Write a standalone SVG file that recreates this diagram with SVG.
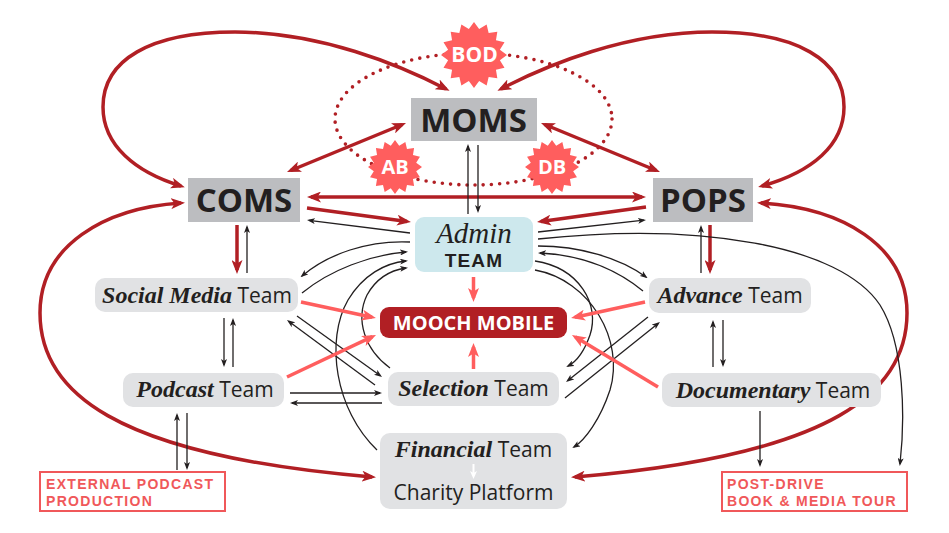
<svg xmlns="http://www.w3.org/2000/svg" width="949" height="533" viewBox="0 0 949 533">
<style>
.dr{fill:none;stroke:#b11f24;stroke-width:3.5}
.pk{fill:none;stroke:#ff5e5e;stroke-width:3.5}
.tk{fill:none;stroke:#231f20;stroke-width:1.3}
.hub{fill:#bcbdc0}
.team{fill:#e1e2e4}
.big{font-family:"Open Sans","Liberation Sans",sans-serif;font-weight:700;font-size:33px;fill:#231f20;text-anchor:middle}
.star{fill:#ff5e5e}
.stxt{font-family:"Open Sans","Liberation Sans",sans-serif;font-weight:700;fill:#fff;text-anchor:middle}
.tl{font-family:"Open Sans","Liberation Sans",sans-serif;font-size:21px;fill:#231f20;text-anchor:middle}
.it{font-family:"Liberation Serif","DejaVu Serif",serif;font-style:italic;font-weight:700;font-size:24px}
.ext{fill:#fff;stroke:#f0585a;stroke-width:2}
.extt{font-family:"Liberation Sans","Arial",sans-serif;font-weight:700;font-size:14px;letter-spacing:1.3px;fill:#f0585a}
</style>
<defs>
<marker id="mDR" viewBox="0 0 14 11" refX="10" refY="5.5" markerWidth="14" markerHeight="11" markerUnits="userSpaceOnUse" orient="auto-start-reverse"><path d="M0,0 L14,5.5 L0,11 L3.5,5.5 Z" fill="#b11f24"/></marker>
<marker id="mPK" viewBox="0 0 14 11" refX="10" refY="5.5" markerWidth="14" markerHeight="11" markerUnits="userSpaceOnUse" orient="auto-start-reverse"><path d="M0,0 L14,5.5 L0,11 L3.5,5.5 Z" fill="#ff5e5e"/></marker>
<marker id="mTK" viewBox="0 0 8 6" refX="6" refY="3" markerWidth="8" markerHeight="6" markerUnits="userSpaceOnUse" orient="auto-start-reverse"><path d="M0,0 L8,3 L0,6 L2,3 Z" fill="#231f20"/></marker>
<marker id="mWH" viewBox="0 0 8 7" refX="5" refY="3.5" markerWidth="8" markerHeight="7" markerUnits="userSpaceOnUse" orient="auto"><path d="M0,0 L8,3.5 L0,7 L2,3.5 Z" fill="#ffffff"/></marker>
<path id="star" d="M10,0 L7.846,1.561 L9.239,3.827 L6.652,4.445 L7.071,7.071 L4.445,6.652 L3.827,9.239 L1.561,7.846 L0,10 L-1.561,7.846 L-3.827,9.239 L-4.445,6.652 L-7.071,7.071 L-6.652,4.445 L-9.239,3.827 L-7.846,1.561 L-10,0 L-7.846,-1.561 L-9.239,-3.827 L-6.652,-4.445 L-7.071,-7.071 L-4.445,-6.652 L-3.827,-9.239 L-1.561,-7.846 L0,-10 L1.561,-7.846 L3.827,-9.239 L4.445,-6.652 L7.071,-7.071 L6.652,-4.445 L9.239,-3.827 L7.846,-1.561 Z"/>
</defs>
<rect width="949" height="533" fill="#ffffff"/>

<g id="board-ring">
<ellipse cx="473.5" cy="119" rx="138.5" ry="66" fill="none" stroke="#b11f24" stroke-width="3.6" stroke-dasharray="0 8.2" stroke-linecap="round"/>
</g>

<g id="connectors">
<path class="dr" marker-start="url(#mDR)" marker-end="url(#mDR)" d="M181,186 C135,172 103,145 103,107 C103,60 150,32 235,32 C320,32 400,65 446,89"/>
<path class="dr" marker-start="url(#mDR)" marker-end="url(#mDR)" d="M762,186 C812,172 844,145 844,107 C844,60 797,32 712,32 C627,32 547,65 501,89"/>
<path class="dr" marker-start="url(#mDR)" marker-end="url(#mDR)" d="M181,203 C105,208 40,245 40,313 C40,390 110,455 372,477"/>
<path class="dr" marker-start="url(#mDR)" marker-end="url(#mDR)" d="M761,203 C842,208 907,245 907,313 C907,390 837,455 575,477"/>
<path class="dr" marker-start="url(#mDR)" marker-end="url(#mDR)" d="M290.7,170.5 L402.3,124.5"/>
<path class="dr" marker-start="url(#mDR)" marker-end="url(#mDR)" d="M544.7,124.5 L656.3,170.5"/>
<path class="dr" marker-start="url(#mDR)" marker-end="url(#mDR)" d="M311,197 L642,197"/>
<path class="dr" marker-end="url(#mDR)" d="M307,208 L407,221.5"/>
<path class="dr" marker-end="url(#mDR)" d="M646,207 L541,221.5"/>
<path class="dr" marker-end="url(#mDR)" d="M237,225 L237,270"/>
<path class="dr" marker-end="url(#mDR)" d="M710,225 L710,270"/>
<path class="tk" marker-end="url(#mTK)" d="M247,273 L247,227"/>
<path class="tk" marker-end="url(#mTK)" d="M701,273 L701,227"/>
<path class="tk" marker-end="url(#mTK)" d="M468,214 L468,146"/>
<path class="tk" marker-end="url(#mTK)" d="M478,145 L478,211"/>
<path class="tk" marker-end="url(#mTK)" d="M410,233 L309,220.3"/>
<path class="tk" marker-end="url(#mTK)" d="M538,232 L644,220.2"/>
<path class="tk" marker-end="url(#mTK)" d="M538,239 C700,222 840,245 880,305 C905,345 905,420 900,464"/>
<path class="tk" marker-end="url(#mTK)" d="M760,411 L760,465"/>
<path class="tk" marker-end="url(#mTK)" d="M177,470 L177,415"/>
<path class="tk" marker-end="url(#mTK)" d="M187,413 L187,468"/>
<path class="tk" marker-end="url(#mTK)" d="M224,318 L224,365"/>
<path class="tk" marker-end="url(#mTK)" d="M233,367 L233,320"/>
<path class="tk" marker-end="url(#mTK)" d="M713,367 L713,322"/>
<path class="tk" marker-end="url(#mTK)" d="M723,320 L723,365"/>
<path class="tk" marker-end="url(#mTK)" d="M290,393 L380,393"/>
<path class="tk" marker-end="url(#mTK)" d="M382,403 L292,403"/>
<path class="tk" marker-end="url(#mTK)" d="M375,385 L288.6,321.2"/>
<path class="tk" marker-end="url(#mTK)" d="M297,316 L380.4,375.8"/>
<path class="tk" marker-end="url(#mTK)" d="M410,242 C368,240 328,254 302,276"/>
<path class="tk" marker-end="url(#mTK)" d="M302,293 C330,270 370,255 406,252"/>
<path class="tk" marker-end="url(#mTK)" d="M377,450 C335,410 325,340 348,300 C363,275 385,263 406,261"/>
<path class="tk" marker-end="url(#mTK)" d="M390,368 C365,350 355,320 367,295 C377,277 392,270 406,268"/>
<path class="tk" marker-end="url(#mTK)" d="M538,246 C580,246 620,258 646,277"/>
<path class="tk" marker-end="url(#mTK)" d="M643,291 C615,268 580,255 540,253"/>
<path class="tk" marker-end="url(#mTK)" d="M535,261 C580,268 600,305 590,335 C584,352 576,362 568,366"/>
<path class="tk" marker-end="url(#mTK)" d="M535,270 C590,280 625,340 610,390 C600,420 585,440 574,447"/>
<path class="tk" marker-end="url(#mTK)" d="M648,317 L567.6,380.8"/>
<path class="tk" marker-end="url(#mTK)" d="M565,398 L658.4,323.2"/>
<path class="pk" marker-end="url(#mPK)" d="M473.5,277 L473.5,298"/>
<path class="pk" marker-end="url(#mPK)" d="M473.5,369 L473.5,347"/>
<path class="pk" marker-end="url(#mPK)" d="M301,302 L372,317.2"/>
<path class="pk" marker-end="url(#mPK)" d="M287,377 L372.4,336.7"/>
<path class="pk" marker-end="url(#mPK)" d="M645,302 L575,317.2"/>
<path class="pk" marker-end="url(#mPK)" d="M658,387 L575.4,337.1"/>
</g>

<g id="moms">
<rect class="hub" x="411" y="98" width="126" height="43"/>
<text class="big" x="473.5" y="132">MOMS</text>
</g>
<g id="coms">
<rect class="hub" x="188" y="178" width="112" height="44"/>
<text class="big" x="244" y="212">COMS</text>
</g>
<g id="pops">
<rect class="hub" x="653" y="178" width="100" height="44"/>
<text class="big" x="703" y="212">POPS</text>
</g>
<g id="bod">
<use href="#star" class="star" transform="translate(474,55) scale(3.3)"/>
<text class="stxt" x="474.5" y="62" font-size="21">BOD</text>
</g>
<g id="ab">
<use href="#star" class="star" transform="translate(395,167) scale(2.7)"/>
<text class="stxt" x="395" y="174" font-size="20">AB</text>
</g>
<g id="db">
<use href="#star" class="star" transform="translate(552,167) scale(2.7)"/>
<text class="stxt" x="552" y="174" font-size="20">DB</text>
</g>
<g id="admin">
<rect x="415" y="217" width="118" height="55" rx="9" fill="#cde8ed"/>
<text x="474" y="243" text-anchor="middle" font-family="Liberation Serif, DejaVu Serif, serif" font-style="italic" font-size="29" fill="#231f20">Admin</text>
<text x="474" y="267" text-anchor="middle" font-family="Liberation Sans, Arial, sans-serif" font-weight="700" font-size="19" letter-spacing="1.2" fill="#231f20">TEAM</text>
</g>
<g id="mooch">
<rect x="380" y="307" width="187" height="31" rx="9" fill="#b11f24"/>
<text class="stxt" x="473.5" y="330" font-size="20">MOOCH MOBILE</text>
</g>
<g id="social">
<rect class="team" x="95" y="278" width="203" height="34" rx="10"/>
<text class="tl" x="197" y="303"><tspan class="it">Social Media</tspan> Team</text>
</g>
<g id="podcast">
<rect class="team" x="123" y="373" width="161" height="34" rx="10"/>
<text class="tl" x="205" y="397"><tspan class="it">Podcast</tspan> Team</text>
</g>
<g id="selection">
<rect class="team" x="388" y="372" width="171" height="34" rx="10"/>
<text class="tl" x="473.5" y="396"><tspan class="it">Selection</tspan> Team</text>
</g>
<g id="advance">
<rect class="team" x="649" y="278" width="162" height="35" rx="10"/>
<text class="tl" x="730" y="303"><tspan class="it">Advance</tspan> Team</text>
</g>
<g id="documentary">
<rect class="team" x="662" y="373" width="219" height="34" rx="10"/>
<text class="tl" x="773" y="398"><tspan class="it">Documentary</tspan> Team</text>
</g>
<g id="financial">
<rect class="team" x="380" y="433" width="187" height="76" rx="10"/>
<text class="tl" x="473.5" y="457"><tspan class="it">Financial</tspan> Team</text>
<path d="M473.5,464 L473.5,476" stroke="#ffffff" stroke-width="2" fill="none" marker-end="url(#mWH)"/>
<text class="tl" x="473.5" y="500" font-size="22">Charity Platform</text>
</g>
<g id="external">
<rect class="ext" x="40" y="472" width="185" height="39"/>
<text class="extt" x="46" y="489">EXTERNAL PODCAST</text>
<text class="extt" x="46" y="506">PRODUCTION</text>
</g>
<g id="postdrive">
<rect class="ext" x="722" y="472" width="185" height="39"/>
<text class="extt" x="727" y="489">POST-DRIVE</text>
<text class="extt" x="727" y="506">BOOK &amp; MEDIA TOUR</text>
</g>
</svg>
